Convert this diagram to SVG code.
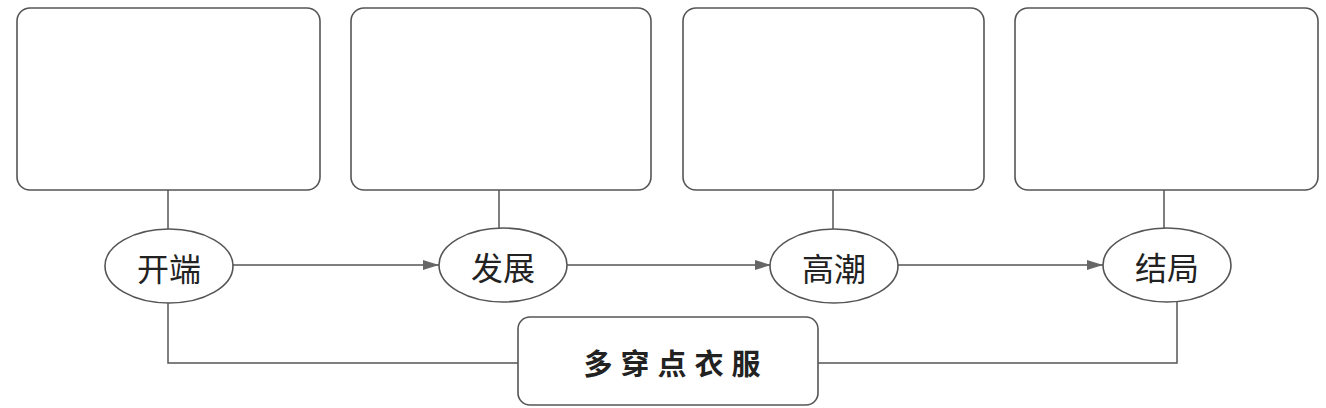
<svg xmlns="http://www.w3.org/2000/svg" width="1326" height="408" viewBox="0 0 1326 408">
<defs>
<style>
.box{fill:#fff;stroke:#555;stroke-width:1.6}
.ell{fill:#fff;stroke:#555;stroke-width:1.6}
.ln{fill:none;stroke:#555;stroke-width:1.5}
.lbl{font-family:"Noto Sans CJK SC","Noto Sans",sans-serif;font-size:32px;fill:#222;text-anchor:middle;dominant-baseline:central}
.big{font-family:"Noto Sans CJK SC","Noto Sans",sans-serif;font-size:29px;font-weight:bold;fill:#222;text-anchor:middle;dominant-baseline:central;letter-spacing:8px}
</style>
<marker id="arr" viewBox="0 0 16 10" refX="16" refY="5" markerWidth="16" markerHeight="10" markerUnits="userSpaceOnUse" orient="auto">
<path d="M0,0 L16,5 L0,10 Z" fill="#666"/>
</marker>
</defs>
<rect width="1326" height="408" fill="#fff"/>
<g id="connectors">
<line class="ln" x1="168" y1="190" x2="168" y2="229"/>
<line class="ln" x1="499" y1="190" x2="499" y2="228"/>
<line class="ln" x1="833" y1="190" x2="833" y2="229"/>
<line class="ln" x1="1164" y1="190" x2="1164" y2="228"/>
<line class="ln" x1="233" y1="265" x2="439" y2="265" marker-end="url(#arr)"/>
<line class="ln" x1="567" y1="265" x2="771" y2="265" marker-end="url(#arr)"/>
<line class="ln" x1="898" y1="265" x2="1103" y2="265" marker-end="url(#arr)"/>
<polyline class="ln" points="168,303 168,363 518,363"/>
<polyline class="ln" points="1177,301 1177,363 818,363"/>
</g>
<g id="box1"><rect class="box" x="17" y="8" width="303" height="182" rx="13"/></g>
<g id="box2"><rect class="box" x="351" y="8" width="300" height="182" rx="13"/></g>
<g id="box3"><rect class="box" x="683" y="8" width="301" height="182" rx="13"/></g>
<g id="box4"><rect class="box" x="1015" y="8" width="303" height="182" rx="13"/></g>
<g id="n-kaiduan"><ellipse class="ell" cx="169" cy="266" rx="64" ry="37"/><text class="lbl" x="169" y="267">开端</text></g>
<g id="n-fazhan"><ellipse class="ell" cx="503" cy="265" rx="64" ry="37"/><text class="lbl" x="503" y="266">发展</text></g>
<g id="n-gaochao"><ellipse class="ell" cx="834" cy="266" rx="64" ry="37"/><text class="lbl" x="834" y="267">高潮</text></g>
<g id="n-jieju"><ellipse class="ell" cx="1167" cy="265" rx="64" ry="37"/><text class="lbl" x="1167" y="266">结局</text></g>
<g id="n-bottom"><rect class="box" x="518" y="317" width="300" height="88" rx="12"/><text class="big" x="676" y="362">多穿点衣服</text></g>
</svg>
